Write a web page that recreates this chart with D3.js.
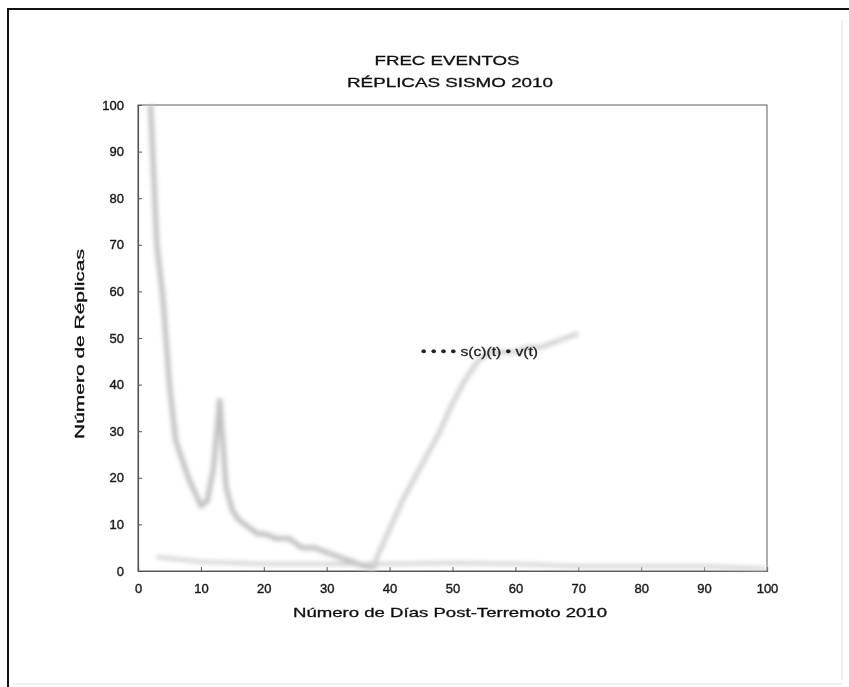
<!DOCTYPE html>
<html><head><meta charset="utf-8">
<script src="https://cdn.jsdelivr.net/npm/d3@7"></script>
<style>body{margin:0;background:#fff;} svg{display:block;} text{font-family:"Liberation Sans",Arial,sans-serif;}</style>
</head><body>
<script>
// ---- data ----
const titleLines = ["FREC EVENTOS", "RÉPLICAS SISMO 2010"];
const xLabel = "Número de Días Post-Terremoto 2010";
const yLabel = "Número de Réplicas";
const xTicks = [0, 10, 20, 30, 40, 50, 60, 70, 80, 90, 100];
const yTicks = [0, 10, 20, 30, 40, 50, 60, 70, 80, 90, 100];
const annotation = "• • • • s(c)(t) • v(t)";

const mainDays   = [2, 3, 4, 5, 6, 7, 8, 9, 10, 11, 12, 13, 14, 15, 16, 17, 18, 19, 20, 22, 24, 26, 28, 30, 32, 34, 36, 38];
const mainCounts = [100, 70, 58, 40, 28, 24, 20, 17, 14, 15, 22, 37, 18, 13, 11, 10, 9, 8, 8, 7, 7, 5, 5, 4, 3, 2, 1, 1];

const riseDays   = [37, 38, 39, 40, 42, 44, 46, 48, 50, 52, 54, 56, 58, 60, 62, 64, 66, 68, 70];
const riseCounts = [0, 3, 6, 9, 15, 20, 25, 30, 36, 41, 45, 47, 47, 47, 48, 48, 49, 50, 51];

const baseDays   = [3, 10, 20, 30, 40, 50, 60, 70, 80, 90, 100];
const baseCounts = [3, 2, 1.5, 1.5, 1.5, 1.7, 1.5, 1, 1, 1, 0.5];

// ---- layout ----
const W = 849, H = 687;
const L = 138, R = 767, T = 105, B = 571;

const svg = d3.select("body").append("svg").attr("width", W).attr("height", H);
const defs = svg.append("defs");
defs.append("filter").attr("id", "blur").attr("x", "-10%").attr("y", "-10%").attr("width", "120%").attr("height", "120%")
  .append("feGaussianBlur").attr("stdDeviation", 2);
defs.append("filter").attr("id", "tblur").append("feGaussianBlur").attr("stdDeviation", 0.5);

// outer frame
svg.append("line").attr("x1", 8).attr("x2", W).attr("y1", 9).attr("y2", 9).attr("stroke", "#111").attr("stroke-width", 2);
svg.append("line").attr("x1", 8).attr("x2", 8).attr("y1", 8).attr("y2", H).attr("stroke", "#111").attr("stroke-width", 2);
svg.append("line").attr("x1", 842).attr("x2", 842).attr("y1", 20).attr("y2", 680).attr("stroke", "#e2e2e2").attr("stroke-width", 1);
svg.append("line").attr("x1", 14).attr("x2", 842).attr("y1", 684).attr("y2", 684).attr("stroke", "#e2e2e2").attr("stroke-width", 1);

const x = d3.scaleLinear().domain([0, 100]).range([L, R]);
const y = d3.scaleLinear().domain([0, 100]).range([B, T]);

// plot box
svg.append("rect").attr("x", L).attr("y", T).attr("width", R - L).attr("height", B - T)
  .attr("fill", "none").attr("stroke", "#777").attr("stroke-width", 1.2);

// axes
const gx = svg.append("g").attr("transform", `translate(0,${B})`)
  .call(d3.axisBottom(x).tickValues(xTicks).tickSize(-4).tickPadding(10).tickFormat(d3.format("d")));
const gy = svg.append("g").attr("transform", `translate(${L},0)`)
  .call(d3.axisLeft(y).tickValues(yTicks).tickSize(-4).tickPadding(10).tickFormat(d3.format("d")));
[gx, gy].forEach(g => {
  g.select(".domain").attr("stroke", "#555").attr("stroke-width", 1.2);
  g.selectAll(".tick line").attr("stroke", "#555");
  g.selectAll(".tick text").attr("font-size", 13).attr("fill", "#1a1a1a")
    .attr("stroke", "#1a1a1a").attr("stroke-width", 0.4).attr("filter", "url(#tblur)");
});
gx.selectAll(".tick text").attr("dy", "0.9em");
gy.selectAll(".tick text").attr("dx", "-4");

// series
const line = d3.line().x(d => x(d[0])).y(d => y(d[1]));
const lg = svg.append("g").attr("filter", "url(#blur)");
lg.append("path").datum(baseDays.map((d, i) => [d, baseCounts[i]]))
  .attr("d", line).attr("fill", "none").attr("stroke", "#d4d4d4").attr("stroke-width", 4);
lg.append("path").datum(mainDays.map((d, i) => [d, mainCounts[i]]))
  .attr("d", line).attr("fill", "none").attr("stroke", "#c0c0c0").attr("stroke-width", 5);
lg.append("path").datum(riseDays.map((d, i) => [d, riseCounts[i]]))
  .attr("d", line).attr("fill", "none").attr("stroke", "#cfcfcf").attr("stroke-width", 4.5);

// annotation
svg.append("text").attr("x", x(45)).attr("y", y(47) + 4).attr("font-size", 12)
  .attr("textLength", 117).attr("lengthAdjust", "spacingAndGlyphs")
  .attr("fill", "#222").attr("stroke", "#222").attr("stroke-width", 0.3).attr("filter", "url(#tblur)").text(annotation);

// titles
const tstyle = s => s.attr("fill", "#111").attr("stroke", "#111").attr("stroke-width", 0.3).attr("filter", "url(#tblur)");
tstyle(svg.append("text").attr("x", 447).attr("y", 65).attr("text-anchor", "middle").attr("font-size", 13)
  .attr("textLength", 145).attr("lengthAdjust", "spacingAndGlyphs").text(titleLines[0]));
tstyle(svg.append("text").attr("x", 450).attr("y", 87).attr("text-anchor", "middle").attr("font-size", 13)
  .attr("textLength", 206).attr("lengthAdjust", "spacingAndGlyphs").text(titleLines[1]));

tstyle(svg.append("text").attr("x", 450).attr("y", 617).attr("text-anchor", "middle").attr("font-size", 13)
  .attr("textLength", 314).attr("lengthAdjust", "spacingAndGlyphs").text(xLabel));

tstyle(svg.append("text").attr("transform", "translate(84,344) rotate(-90)").attr("text-anchor", "middle").attr("font-size", 13)
  .attr("textLength", 190).attr("lengthAdjust", "spacingAndGlyphs").text(yLabel));
</script>
</body></html>
